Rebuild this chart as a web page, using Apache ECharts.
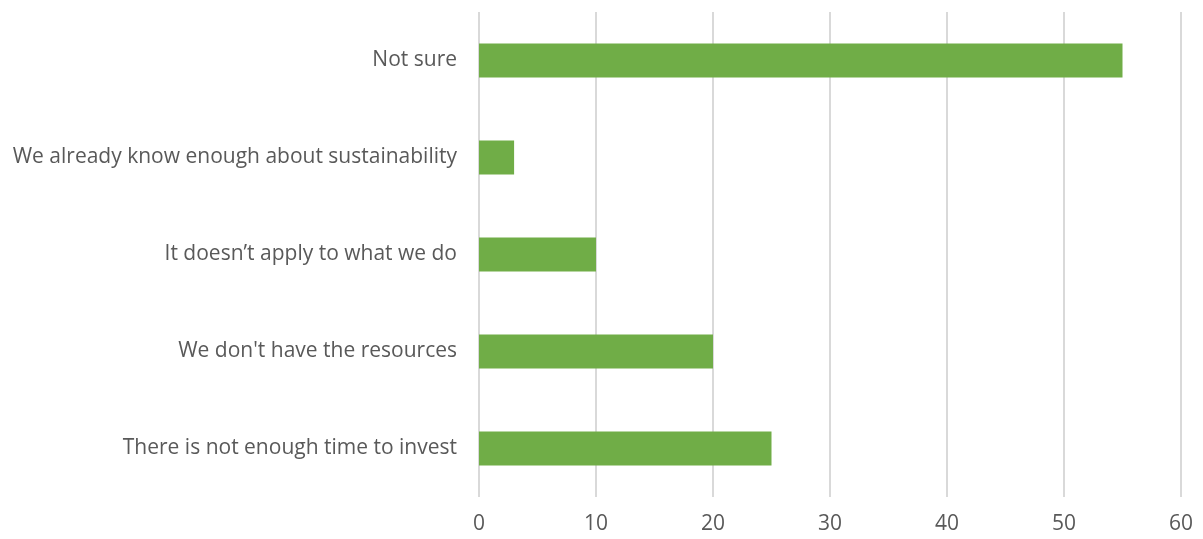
<!DOCTYPE html>
<html>
<head>
<meta charset="utf-8">
<script src="https://cdn.jsdelivr.net/npm/echarts@6/dist/echarts.min.js"></script>
<style>html,body{margin:0;padding:0;background:#fff}#c{width:1203px;height:539px}</style>
</head>
<body>
<div id="c"></div>
<script>
const categories = ["There is not enough time to invest", "We don't have the resources", "It doesn\u2019t apply to what we do", "We already know enough about sustainability", "Not sure"];
const values = [25, 20, 10, 3, 55];
const xTicks = [0, 60, 10];

const chart = echarts.init(document.getElementById('c'));
chart.setOption({
  animation: false,
  grid: { left: 479, right: 22, top: 12, bottom: 42, containLabel: false },
  xAxis: {
    type: 'value', min: xTicks[0], max: xTicks[1], interval: xTicks[2],
    axisLine: { show: false }, axisTick: { show: false },
    splitLine: { show: true, lineStyle: { color: '#d9d9d9', width: 2 } },
    axisLabel: { color: '#595959', fontSize: 21, fontFamily: 'Open Sans', margin: 17 }
  },
  yAxis: {
    type: 'category', data: categories,
    axisLine: { show: false }, axisTick: { show: false },
    axisLabel: { color: '#595959', fontSize: 21, fontFamily: 'Open Sans', margin: 22 }
  },
  series: [{
    type: 'bar', data: values, barWidth: 34,
    itemStyle: { color: '#70ad47' }
  }]
});
</script>
</body>
</html>
